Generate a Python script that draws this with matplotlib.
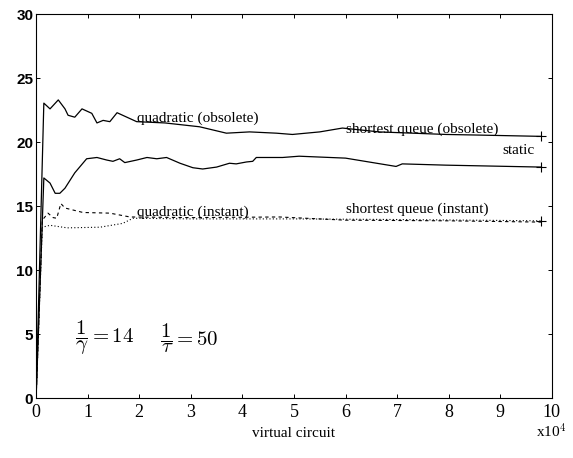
import numpy as np
import matplotlib.pyplot as plt

plt.rcParams['font.family'] = ['Liberation Serif', 'DejaVu Serif']
plt.rcParams['mathtext.fontset'] = 'cm'

# virtual circuit (x 10^4) and mean delay for each policy
obs_x = [0, 0.15, 0.27, 0.43, 0.56, 0.62, 0.75, 0.89, 1.08, 1.18, 1.3, 1.43, 1.57, 1.76,
         1.95, 2.5, 3.17, 3.69, 4.14, 4.66, 4.97, 5.5, 5.94, 6.65, 7.95, 8.6, 9.8]
obs_y = [0, 23.05, 22.6, 23.3, 22.6, 22.1, 21.95, 22.6, 22.25, 21.5, 21.7, 21.6, 22.3, 21.95,
         21.6, 21.5, 21.2, 20.7, 20.8, 20.7, 20.6, 20.8, 21.1, 20.8, 20.6, 20.55, 20.45]

static_x = [0, 0.15, 0.27, 0.37, 0.46, 0.56, 0.75, 0.98, 1.18, 1.37, 1.49, 1.62, 1.72, 1.95,
            2.15, 2.34, 2.53, 2.79, 3.04, 3.23, 3.5, 3.75, 3.88, 4.08, 4.2, 4.27, 4.78,
            5.1, 6.0, 6.98, 7.1, 7.95, 9.8]
static_y = [0, 17.2, 16.8, 16.0, 16.0, 16.4, 17.6, 18.7, 18.8, 18.6, 18.5, 18.7, 18.4, 18.6,
            18.8, 18.7, 18.8, 18.35, 18.0, 17.9, 18.05, 18.35, 18.3, 18.45, 18.5, 18.8, 18.8,
            18.9, 18.75, 18.1, 18.3, 18.2, 18.05]

qi_x = [0, 0.12, 0.23, 0.33, 0.4, 0.48, 0.56, 0.91, 1.43, 1.82, 3.0, 4.72, 6.0, 8.0, 9.8]
qi_y = [0, 13.9, 14.45, 14.1, 14.05, 15.2, 14.85, 14.5, 14.45, 14.15, 14.1, 14.15, 13.9, 13.85, 13.75]

sqi_x = [0, 0.12, 0.27, 0.6, 1.24, 1.68, 1.88, 3.0, 5.0, 7.0, 9.8]
sqi_y = [0, 13.35, 13.5, 13.3, 13.35, 13.65, 14.05, 14.0, 14.0, 13.95, 13.85]

fig = plt.figure(figsize=(5.73, 4.58), dpi=100)
ax = fig.add_axes([0.063, 0.131, 0.9, 0.838])

ax.plot(obs_x, obs_y, color='black', lw=0.9)
ax.plot(static_x, static_y, color='black', lw=0.9)
ax.plot(qi_x, qi_y, color='black', lw=0.8, linestyle=(0, (3, 3)))
ax.plot(sqi_x, sqi_y, color='black', lw=0.8, linestyle=(0, (1, 2)))
ax.plot([obs_x[-1], static_x[-1], sqi_x[-1]], [obs_y[-1], static_y[-1], sqi_y[-1]],
        '+', color='black', ms=7, mew=0.8)

ax.set_xlim(0, 10)
ax.set_ylim(0, 30)
ax.set_xticks(range(0, 11))
ax.set_yticks(range(0, 31, 5))
ax.tick_params(direction='in', top=True, right=True, length=3, width=0.7)
ax.tick_params(axis='x', labelsize=13, pad=4)
ax.tick_params(axis='y', labelsize=11, pad=2)
for lbl in ax.get_yticklabels():
    lbl.set_family('Liberation Sans')
    lbl.set_fontweight('bold')
for s in ax.spines.values():
    s.set_linewidth(0.8)

fs = 11
ax.text(1.95, 21.55, 'quadratic (obsolete)', fontsize=fs)
ax.text(6.0, 20.75, 'shortest queue (obsolete)', fontsize=fs)
ax.text(9.05, 19.05, 'static', fontsize=fs)
ax.text(1.95, 14.25, 'quadratic (instant)', fontsize=fs)
ax.text(6.0, 14.5, 'shortest queue (instant)', fontsize=fs)
ax.text(0.75, 4.7, r'$\dfrac{1}{\gamma} = 14$', fontsize=15, va='center')
ax.text(2.4, 4.7, r'$\dfrac{1}{\tau} = 50$', fontsize=15, va='center')

fig.text(0.513, 0.045, 'virtual circuit', fontsize=fs, ha='center')
fig.text(0.935, 0.045, r'x10$^4$', fontsize=fs, ha='left')

fig.savefig('out.png', dpi=100)
